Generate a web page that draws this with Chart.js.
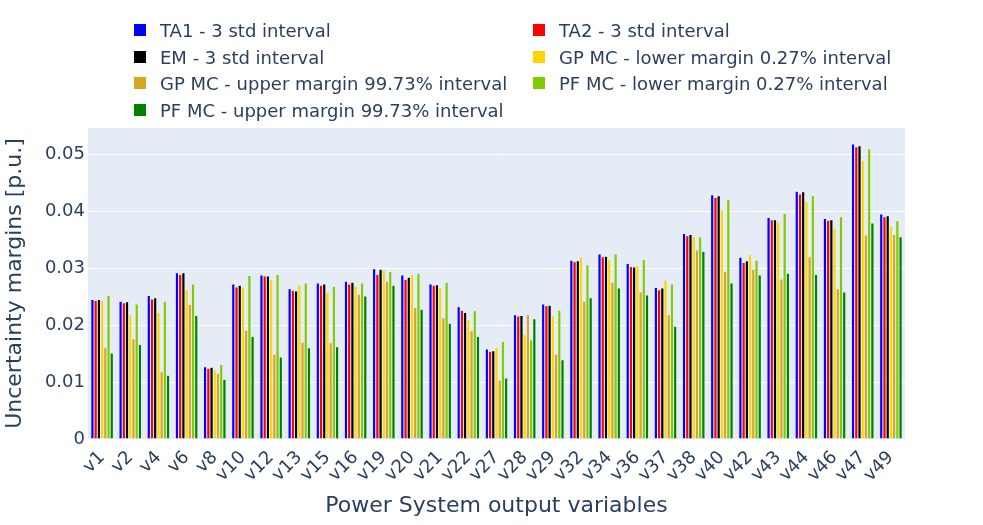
<!DOCTYPE html>
<html>
<head>
<meta charset="utf-8">
<script src="https://cdn.jsdelivr.net/npm/chart.js@4"></script>
<style>
  body{ margin:0; background:#fff; font-family:"DejaVu Sans", Verdana, sans-serif; }
  #wrap{ position:relative; width:983px; height:525px; }
  #legend .item{ position:absolute; display:flex; align-items:center; font-size:18px; color:#2a3f5f; white-space:nowrap; }
  #legend .sw{ width:12px; height:12px; margin-right:14px; }
</style>
</head>
<body>
<div id="wrap">
  <canvas id="chart"></canvas>
  <div id="legend"></div>
</div>
<script>
/* ---------- data ---------- */
const categories = ['v1','v2','v4','v6','v8','v10','v12','v13','v15','v16','v19','v20','v21','v22',
  'v27','v28','v29','v32','v34','v36','v37','v38','v40','v42','v43','v44','v46','v47','v49'];

const ta1      = [0.0245,0.0242,0.0252,0.0292,0.0127,0.0272,0.0288,0.0264,0.0274,0.0277,0.0299,0.0288,0.0272,0.0232,0.0158,0.0218,0.0237,0.0314,0.0325,0.0308,0.0266,0.0361,0.0429,0.0319,0.0389,0.0435,0.0387,0.0518,0.0395];
const ta2      = [0.0243,0.0239,0.0246,0.0289,0.0124,0.0267,0.0286,0.0261,0.0270,0.0272,0.0289,0.0280,0.0270,0.0226,0.0154,0.0216,0.0234,0.0311,0.0320,0.0303,0.0262,0.0357,0.0424,0.0310,0.0385,0.0430,0.0384,0.0513,0.0390];
const em       = [0.0245,0.0241,0.0248,0.0292,0.0126,0.0270,0.0286,0.0260,0.0272,0.0275,0.0298,0.0284,0.0271,0.0222,0.0155,0.0217,0.0235,0.0313,0.0321,0.0302,0.0265,0.0359,0.0427,0.0313,0.0385,0.0434,0.0385,0.0515,0.0392];
const gpLower  = [0.0243,0.0218,0.0222,0.0262,0.0121,0.0267,0.0279,0.0271,0.0257,0.0268,0.0297,0.0289,0.0265,0.0210,0.0161,0.0184,0.0216,0.0319,0.0315,0.0304,0.0279,0.0356,0.0402,0.0324,0.0381,0.0417,0.0370,0.0489,0.0373];
const gpUpper  = [0.0161,0.0176,0.0118,0.0236,0.0115,0.0191,0.0149,0.0170,0.0169,0.0254,0.0277,0.0231,0.0213,0.0190,0.0103,0.0218,0.0149,0.0242,0.0275,0.0258,0.0218,0.0332,0.0294,0.0298,0.0281,0.0320,0.0264,0.0358,0.0359];
const pfLower  = [0.0252,0.0237,0.0242,0.0272,0.0131,0.0287,0.0289,0.0274,0.0268,0.0274,0.0294,0.0291,0.0275,0.0225,0.0171,0.0174,0.0226,0.0306,0.0325,0.0315,0.0272,0.0355,0.0421,0.0314,0.0396,0.0427,0.0390,0.0509,0.0383];
const pfUpper  = [0.0151,0.0166,0.0112,0.0217,0.0105,0.0180,0.0144,0.0160,0.0162,0.0251,0.0270,0.0228,0.0203,0.0180,0.0107,0.0211,0.0139,0.0248,0.0265,0.0253,0.0198,0.0329,0.0274,0.0288,0.0291,0.0289,0.0258,0.0379,0.0355];

const yTicks = [0, 0.01, 0.02, 0.03, 0.04, 0.05];

const series = [
  { label:'TA1 - 3 std interval',                  data:ta1,     color:'#0000ff' },
  { label:'TA2 - 3 std interval',                  data:ta2,     color:'#ff0000' },
  { label:'EM - 3 std interval',                   data:em,      color:'#000000' },
  { label:'GP MC - lower margin 0.27% interval',   data:gpLower, color:'#ffd700' },
  { label:'GP MC - upper margin 99.73% interval',  data:gpUpper, color:'#daa520' },
  { label:'PF MC - lower margin 0.27% interval',   data:pfLower, color:'#7fcc00' },
  { label:'PF MC - upper margin 99.73% interval',  data:pfUpper, color:'#008000' },
];

const FONT = '"DejaVu Sans", Verdana, sans-serif';
const INK = '#2a3f5f';

/* plot background like the plotly template */
const plotBg = {
  id:'plotBg',
  beforeDraw(chart){
    const { ctx, chartArea:a } = chart;
    ctx.save();
    ctx.fillStyle = '#e5ecf6';
    ctx.fillRect(a.left, a.top, a.right - a.left, a.bottom - a.top);
    ctx.restore();
  }
};

function renderLegend(){
  // two columns, filled row by row
  const cols = [134, 533], rows = [30, 57, 83, 110];
  document.getElementById('legend').innerHTML = series.map((s, i) => `
    <div class="item" style="left:${cols[i % 2]}px; top:${rows[Math.floor(i / 2)] - 13}px; height:26px;">
      <div class="sw" style="background:${s.color}"></div>${s.label}
    </div>`).join('');
}

new Chart(document.getElementById('chart'), {
  type:'bar',
  data:{
    labels:categories,
    datasets:series.map(s => ({
      label:s.label, data:s.data, backgroundColor:s.color,
      borderColor:'#e5ecf6', borderWidth:0.5,
      categoryPercentage:0.8, barPercentage:1.0
    }))
  },
  options:{
    responsive:true, maintainAspectRatio:false, animation:false,
    layout:{ padding:{ top:128, right:78, left:0, bottom:0 } },
    plugins:{ legend:{ display:false }, tooltip:{ enabled:false } },
    scales:{
      x:{
        grid:{ display:false },
        border:{ display:false },
        ticks:{ color:INK, font:{ family:FONT, size:18 }, minRotation:45, maxRotation:45, autoSkip:false, padding:0 },
        title:{ display:true, text:'Power System output variables', color:INK, font:{ family:FONT, size:22 }, padding:{ top:0, bottom:6 } },
        afterFit(scale){ scale.height = 86; }
      },
      y:{
        min:0, max:0.0546,
        grid:{ color:'#ffffff', lineWidth:1, drawTicks:false },
        border:{ display:false },
        ticks:{ color:INK, font:{ family:FONT, size:18 }, padding:3, callback:v => String(v) },
        afterBuildTicks(scale){ scale.ticks = yTicks.map(v => ({ value:v })); },
        title:{ display:true, text:'Uncertainty margins [p.u.]', color:INK, font:{ family:FONT, size:22 }, padding:{ top:2, bottom:0 } },
        afterFit(scale){ scale.width = 88; }
      }
    }
  },
  plugins:[plotBg]
});

renderLegend();
</script>
</body>
</html>
